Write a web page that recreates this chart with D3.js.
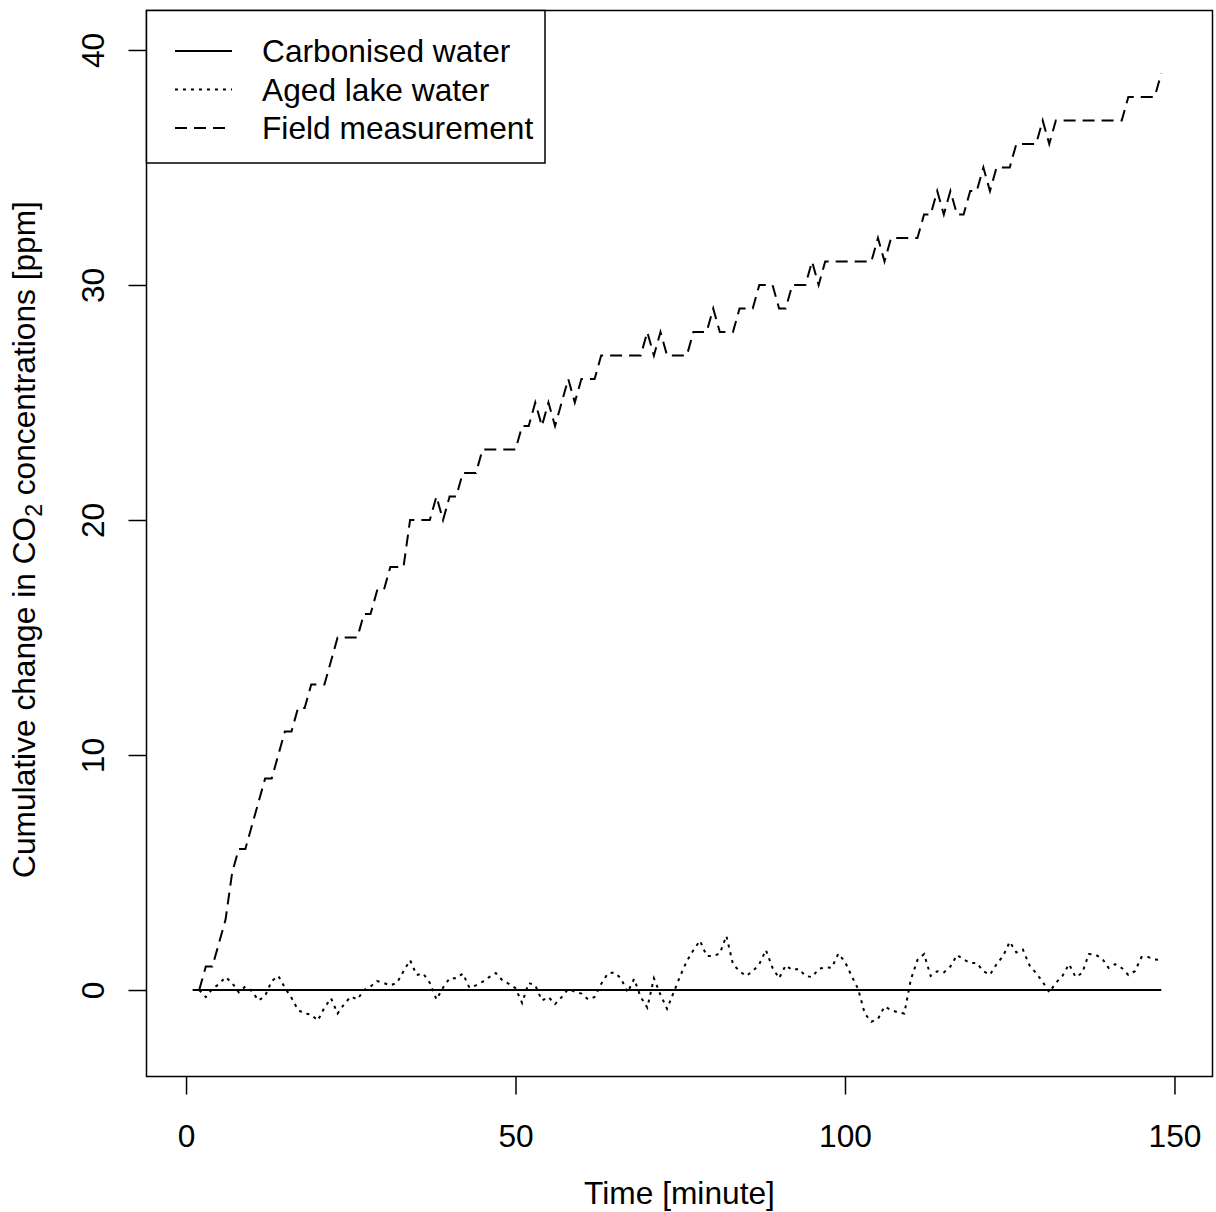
<!DOCTYPE html>
<html>
<head>
<meta charset="utf-8">
<script src="https://cdn.jsdelivr.net/npm/d3@7"></script>
<style>
  body { margin: 0; background: #fff; }
  svg text { font-family: "Liberation Sans", Arial, sans-serif; fill: #000; }
</style>
</head>
<body>
<svg id="chart"></svg>
<script>
// minutes sampled for the two measured series (every minute from 2 to 148)
const minutes = d3.range(2, 149);

// Carbonised water stays flat at zero for the whole run
const carbonTime = [1, 148];
const carbonValues = [0, 0];

// Aged lake water
const lakeValues = [
  0.0, -0.3, 0.05, 0.25, 0.55, 0.3, -0.1, 0.15, -0.05, -0.45,
  -0.25, 0.38, 0.6, 0.1, -0.33, -0.85, -1.0, -1.05, -1.3, -0.75,
  -0.35, -1.0, -0.6, -0.28, -0.4, 0.0, 0.15, 0.38, 0.3, 0.2,
  0.3, 0.8, 1.27, 0.64, 0.7, 0.3, -0.4, 0.1, 0.5, 0.5,
  0.7, 0.1, 0.2, 0.35, 0.55, 0.72, 0.42, 0.26, 0.08, -0.55,
  0.3, 0.2, -0.45, -0.3, -0.6, -0.3, 0.04, -0.07, -0.15, -0.4,
  -0.3, 0.26, 0.7, 0.75, 0.5, -0.1, 0.47, -0.3, -0.75, 0.5,
  -0.2, -0.8, -0.1, 0.6, 1.23, 1.7, 2.1, 1.45, 1.45, 1.55,
  2.3, 1.1, 0.8, 0.6, 0.8, 1.1, 1.7, 0.95, 0.5, 1.05,
  0.85, 0.9, 0.6, 0.55, 0.9, 0.96, 0.95, 1.55, 1.2, 0.6,
  0.04, -1.0, -1.35, -1.23, -0.7, -0.85, -0.95, -1.0, 0.45, 1.28,
  1.53, 0.6, 0.8, 0.75, 1.0, 1.49, 1.3, 1.15, 1.15, 0.8,
  0.65, 1.1, 1.45, 2.05, 1.6, 1.72, 1.05, 0.72, 0.35, -0.1,
  0.3, 0.6, 1.1, 0.55, 0.72, 1.53, 1.5, 1.35, 0.94, 1.1,
  0.94, 0.64, 0.8, 1.4, 1.4, 1.3, 1.28
];

const fieldValues = [
  0, 1, 1, 2, 3, 5, 6, 6, 7, 8,
  9, 9, 10, 11, 11, 12, 12, 13, 13, 13,
  14, 15, 15, 15, 15, 16, 16, 17, 17, 18,
  18, 18, 20, 20, 20, 20, 21, 20, 21, 21,
  22, 22, 22, 23, 23, 23, 23, 23, 23, 24,
  24, 25, 24, 25, 24, 25, 26, 25, 26, 26,
  26, 27, 27, 27, 27, 27, 27, 27, 28, 27,
  28, 27, 27, 27, 27, 28, 28, 28, 29, 28,
  28, 28, 29, 29, 29, 30, 30, 30, 29, 29,
  30, 30, 30, 31, 30, 31, 31, 31, 31, 31,
  31, 31, 31, 32, 31, 32, 32, 32, 32, 32,
  33, 33, 34, 33, 34, 33, 33, 34, 34, 35,
  34, 35, 35, 35, 36, 36, 36, 36, 37, 36,
  37, 37, 37, 37, 37, 37, 37, 37, 37, 37,
  37, 38, 38, 38, 38, 38, 39
];

const xTicks = [0, 50, 100, 150];
const yTicks = [0, 10, 20, 30, 40];

const legendLabels = ["Carbonised water", "Aged lake water", "Field measurement"];
const legendDash = ["none", "3,5", "12,7"];

const width = 1216, height = 1212;
const box = {left: 146.5, right: 1212.5, top: 10.5, bottom: 1076.5};
const fontSize = "31.7px";

const svg = d3.select("#chart")
    .attr("width", width)
    .attr("height", height);

// R style padded ranges: xlim 0..150, ylim -2..40 with 4% extension
const x = d3.scaleLinear().domain([-6, 156]).range([box.left, box.right + 1.5]);
const y = d3.scaleLinear().domain([-3.68, 41.68]).range([box.bottom, box.top]);

const line = d3.line()
    .x(d => x(d[0]))
    .y(d => y(d[1]));

const carbonData = carbonTime.map((t, i) => [t, carbonValues[i]]);
const lakeData = minutes.map((t, i) => [t, lakeValues[i]]);
const fieldData = minutes.map((t, i) => [t, fieldValues[i]]);

svg.append("path")
    .datum(carbonData)
    .attr("d", line)
    .attr("fill", "none")
    .attr("stroke", "#000")
    .attr("stroke-width", 2);

svg.append("path")
    .datum(lakeData)
    .attr("d", line)
    .attr("fill", "none")
    .attr("stroke", "#000")
    .attr("stroke-width", 2)
    .attr("stroke-dasharray", legendDash[1]);

svg.append("path")
    .datum(fieldData)
    .attr("d", line)
    .attr("fill", "none")
    .attr("stroke", "#000")
    .attr("stroke-width", 2)
    .attr("stroke-dasharray", legendDash[2]);

// axes
const xAxis = svg.append("g")
    .attr("transform", `translate(0,${box.bottom})`)
    .call(d3.axisBottom(x).tickValues(xTicks).tickSize(18).tickFormat(d3.format("d")));
xAxis.select(".domain").remove();
xAxis.selectAll(".tick line").attr("stroke", "#000").attr("stroke-width", 1.5);
xAxis.selectAll(".tick text")
    .attr("y", 70)
    .attr("dy", 0)
    .style("font-size", fontSize)
    .style("font-family", "Liberation Sans, Arial, sans-serif");

const yAxis = svg.append("g")
    .attr("transform", `translate(${box.left},0)`)
    .call(d3.axisLeft(y).tickValues(yTicks).tickSize(18).tickFormat(d3.format("d")));
yAxis.select(".domain").remove();
yAxis.selectAll(".tick line").attr("stroke", "#000").attr("stroke-width", 1.5);
yAxis.selectAll(".tick text")
    .attr("x", 0)
    .attr("dy", 0)
    .attr("transform", "translate(-43,0) rotate(-90)")
    .attr("text-anchor", "middle")
    .style("font-size", fontSize)
    .style("font-family", "Liberation Sans, Arial, sans-serif");

// plot box
svg.append("rect")
    .attr("x", box.left)
    .attr("y", box.top)
    .attr("width", box.right - box.left)
    .attr("height", box.bottom - box.top)
    .attr("fill", "none")
    .attr("stroke", "#000")
    .attr("stroke-width", 1.5);

// axis titles
svg.append("text")
    .attr("x", (box.left + box.right) / 2)
    .attr("y", 1204)
    .attr("text-anchor", "middle")
    .style("font-size", fontSize)
    .text("Time [minute]");

const yTitle = svg.append("text")
    .attr("transform", `translate(35,${(box.top + box.bottom) / 2 - 4}) rotate(-90)`)
    .attr("text-anchor", "middle")
    .style("font-size", fontSize);
yTitle.append("tspan").text("Cumulative change in CO");
yTitle.append("tspan").attr("dy", 7).style("font-size", "23px").text("2");
yTitle.append("tspan").attr("dy", -7).text(" concentrations [ppm]");

// legend
const legend = svg.append("g");
legend.append("rect")
    .attr("x", box.left)
    .attr("y", box.top)
    .attr("width", 545 - box.left)
    .attr("height", 163 - box.top)
    .attr("fill", "#fff")
    .attr("stroke", "#000")
    .attr("stroke-width", 1.5);

legendLabels.forEach((lab, i) => {
    const ly = 51 + i * 38.5;
    legend.append("line")
        .attr("x1", 175).attr("x2", 232)
        .attr("y1", ly).attr("y2", ly)
        .attr("stroke", "#000")
        .attr("stroke-width", 2)
        .attr("stroke-dasharray", legendDash[i]);
    legend.append("text")
        .attr("x", 262)
        .attr("y", ly + 11)
        .style("font-size", fontSize)
        .text(lab);
});
</script>
</body>
</html>
